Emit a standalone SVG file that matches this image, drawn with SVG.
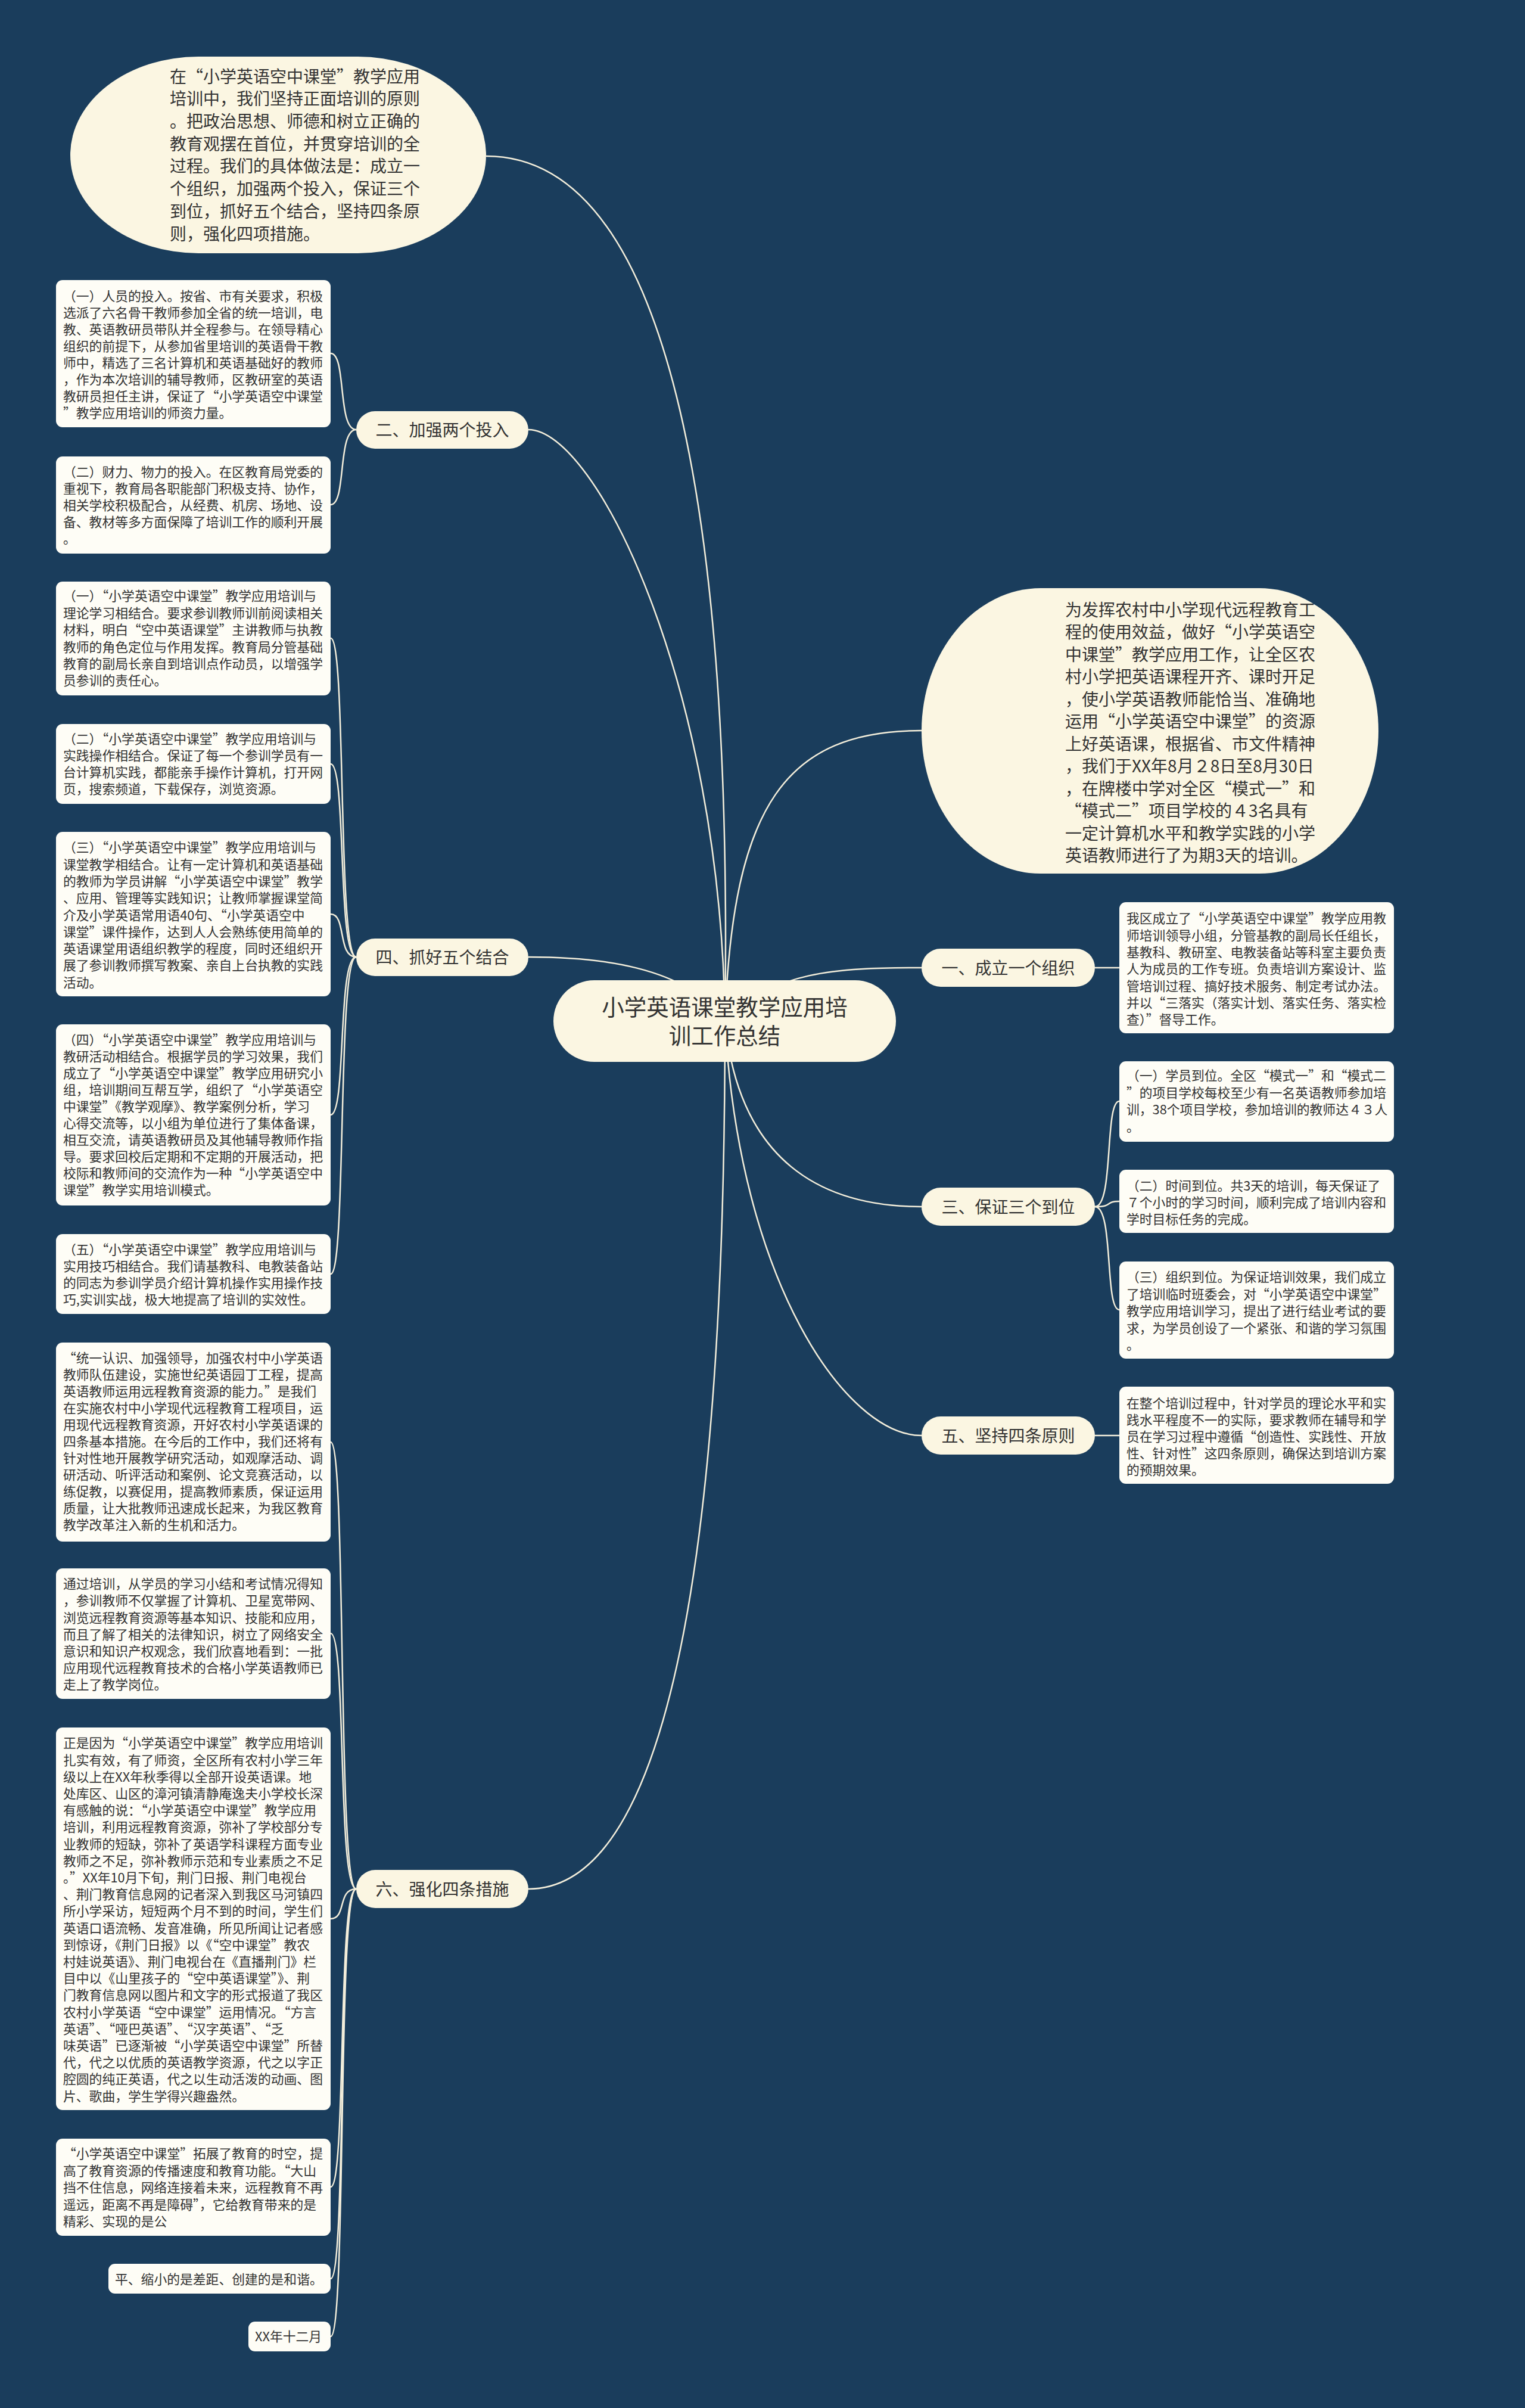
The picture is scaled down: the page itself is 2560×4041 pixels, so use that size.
<svg xmlns="http://www.w3.org/2000/svg" width="2560" height="4041" viewBox="0 0 2560 4041">
<style>
.pill{fill:#fbf6e2}
.box{fill:#fefdf6}
.t{font-family:"Noto Sans CJK SC","Noto Sans",sans-serif;fill:#333}
.s{font-size:21.8px}
.m{font-size:28px}
.lbl{font-size:28px;text-anchor:middle}
.ttl{font-size:37.5px;text-anchor:middle}
.edge{fill:none;stroke:#f3eedb;stroke-width:2.5}
</style>
<rect x="0" y="0" width="2560" height="4041" fill="#1a3d5c"/>
<g id="connectors">
<path class="edge" d="M1217,1713 C1230,850 1120,262 816,262"/>
<path class="edge" d="M1217,1713 C1210,1150 1000,721 887,721"/>
<path class="edge" d="M1217,1713 C1150,1620 1000,1606 887,1606"/>
<path class="edge" d="M1217,1713 C1217,2900 1050,3170 887,3170"/>
<path class="edge" d="M1217,1713 C1230,1350 1320,1226 1547,1226"/>
<path class="edge" d="M1217,1713 C1300,1630 1400,1624 1547,1624"/>
<path class="edge" d="M1217,1713 C1240,1950 1380,2025 1547,2025"/>
<path class="edge" d="M1217,1713 C1240,2150 1420,2409 1547,2409"/>
<path class="edge" d="M598,721 C566,721 582,593 555,593"/>
<path class="edge" d="M598,721 C566,721 582,847 555,847"/>
<path class="edge" d="M598,1606 C566,1606 582,1071 555,1071"/>
<path class="edge" d="M598,1606 C566,1606 582,1282 555,1282"/>
<path class="edge" d="M598,1606 C566,1606 582,1534 555,1534"/>
<path class="edge" d="M598,1606 C566,1606 582,1871 555,1871"/>
<path class="edge" d="M598,1606 C566,1606 582,2138 555,2138"/>
<path class="edge" d="M598,3170 C566,3170 582,2420 555,2420"/>
<path class="edge" d="M598,3170 C566,3170 582,2741 555,2741"/>
<path class="edge" d="M598,3170 C566,3170 582,3220 555,3220"/>
<path class="edge" d="M598,3170 C566,3170 582,3670 555,3670"/>
<path class="edge" d="M598,3170 C566,3170 582,3824 555,3824"/>
<path class="edge" d="M598,3170 C566,3170 582,3921 555,3921"/>
<path class="edge" d="M1838,1624 L1879,1624"/>
<path class="edge" d="M1838,2025 C1870,2025 1854,1848 1879,1848"/>
<path class="edge" d="M1838,2025 C1870,2025 1854,2016 1879,2016"/>
<path class="edge" d="M1838,2025 C1870,2025 1854,2198 1879,2198"/>
<path class="edge" d="M1838,2409 L1879,2409"/>
</g>

<g id="root">
<rect class="pill" x="929" y="1645" width="575" height="137" rx="68.5"/>
<text class="t ttl" x="1216.5" y="1704">小学英语课堂教学应用培</text>
<text class="t ttl" x="1216.5" y="1752">训工作总结</text>
</g>

<g id="intro-left">
<rect class="pill" x="118" y="95" width="698" height="330" rx="215" ry="165"/>
<text class="t m" x="285" y="138.6">
<tspan x="285" dy="0">在“小学英语空中课堂”教学应用</tspan>
<tspan x="285" dy="37.7">培训中，我们坚持正面培训的原则</tspan>
<tspan x="285" dy="37.7">。把政治思想、师德和树立正确的</tspan>
<tspan x="285" dy="37.7">教育观摆在首位，并贯穿培训的全</tspan>
<tspan x="285" dy="37.7">过程。我们的具体做法是：成立一</tspan>
<tspan x="285" dy="37.7">个组织，加强两个投入，保证三个</tspan>
<tspan x="285" dy="37.7">到位，抓好五个结合，坚持四条原</tspan>
<tspan x="285" dy="37.7">则，强化四项措施。</tspan>
</text>
</g>

<g id="intro-right">
<rect class="pill" x="1547" y="987" width="767" height="479" rx="200" ry="239.5"/>
<text class="t m" x="1788" y="1033.6">
<tspan x="1788" dy="0">为发挥农村中小学现代远程教育工</tspan>
<tspan x="1788" dy="37.5">程的使用效益，做好“小学英语空</tspan>
<tspan x="1788" dy="37.5">中课堂”教学应用工作，让全区农</tspan>
<tspan x="1788" dy="37.5">村小学把英语课程开齐、课时开足</tspan>
<tspan x="1788" dy="37.5">，使小学英语教师能恰当、准确地</tspan>
<tspan x="1788" dy="37.5">运用“小学英语空中课堂”的资源</tspan>
<tspan x="1788" dy="37.5">上好英语课，根据省、市文件精神</tspan>
<tspan x="1788" dy="37.5">，我们于XX年8月２8日至8月30日</tspan>
<tspan x="1788" dy="37.5">，在牌楼中学对全区“模式一”和</tspan>
<tspan x="1788" dy="37.5">“模式二”项目学校的４3名具有</tspan>
<tspan x="1788" dy="37.5">一定计算机水平和教学实践的小学</tspan>
<tspan x="1788" dy="37.5">英语教师进行了为期3天的培训。</tspan>
</text>
</g>

<g id="b1">
<rect class="pill" x="1547" y="1592" width="291" height="64" rx="32"/>
<text class="t lbl" x="1692.5" y="1634.6">一、成立一个组织</text>
</g>
<g id="b1-c1">
<rect class="box" x="1879" y="1514" width="461" height="220" rx="11"/>
<text class="t s" x="1891" y="1549.3">
<tspan x="1891" dy="0">我区成立了“小学英语空中课堂”教学应用教</tspan>
<tspan x="1891" dy="28.3">师培训领导小组，分管基教的副局长任组长，</tspan>
<tspan x="1891" dy="28.3">基教科、教研室、电教装备站等科室主要负责</tspan>
<tspan x="1891" dy="28.3">人为成员的工作专班。负责培训方案设计、监</tspan>
<tspan x="1891" dy="28.3">管培训过程、搞好技术服务、制定考试办法。</tspan>
<tspan x="1891" dy="28.3">并以“三落实（落实计划、落实任务、落实检</tspan>
<tspan x="1891" dy="28.3">查）”督导工作。</tspan>
</text>
</g>

<g id="b2">
<rect class="pill" x="598" y="690" width="289" height="63" rx="31.5"/>
<text class="t lbl" x="742.5" y="732.1">二、加强两个投入</text>
</g>
<g id="b2-c1">
<rect class="box" x="94" y="470" width="461" height="247" rx="11"/>
<text class="t s" x="106" y="505.3">
<tspan x="106" dy="0">（一）人员的投入。按省、市有关要求，积极</tspan>
<tspan x="106" dy="28">选派了六名骨干教师参加全省的统一培训，电</tspan>
<tspan x="106" dy="28">教、英语教研员带队并全程参与。在领导精心</tspan>
<tspan x="106" dy="28">组织的前提下，从参加省里培训的英语骨干教</tspan>
<tspan x="106" dy="28">师中，精选了三名计算机和英语基础好的教师</tspan>
<tspan x="106" dy="28">，作为本次培训的辅导教师，区教研室的英语</tspan>
<tspan x="106" dy="28">教研员担任主讲，保证了“小学英语空中课堂</tspan>
<tspan x="106" dy="28">”教学应用培训的师资力量。</tspan>
</text>
</g>
<g id="b2-c2">
<rect class="box" x="94" y="766" width="461" height="163" rx="11"/>
<text class="t s" x="106" y="800.3">
<tspan x="106" dy="0">（二）财力、物力的投入。在区教育局党委的</tspan>
<tspan x="106" dy="28">重视下，教育局各职能部门积极支持、协作，</tspan>
<tspan x="106" dy="28">相关学校积极配合，从经费、机房、场地、设</tspan>
<tspan x="106" dy="28">备、教材等多方面保障了培训工作的顺利开展</tspan>
<tspan x="106" dy="28">。</tspan>
</text>
</g>

<g id="b3">
<rect class="pill" x="1547" y="1993" width="291" height="64" rx="32"/>
<text class="t lbl" x="1692.5" y="2035.6">三、保证三个到位</text>
</g>
<g id="b3-c1">
<rect class="box" x="1879" y="1781" width="461" height="135" rx="11"/>
<text class="t s" x="1891" y="1813.3">
<tspan x="1891" dy="0">（一）学员到位。全区“模式一”和“模式二</tspan>
<tspan x="1891" dy="28.5">”的项目学校每校至少有一名英语教师参加培</tspan>
<tspan x="1891" dy="28.5">训，38个项目学校，参加培训的教师达４３人</tspan>
<tspan x="1891" dy="28.5">。</tspan>
</text>
</g>
<g id="b3-c2">
<rect class="box" x="1879" y="1963" width="461" height="106" rx="11"/>
<text class="t s" x="1891" y="1998.3">
<tspan x="1891" dy="0">（二）时间到位。共3天的培训，每天保证了</tspan>
<tspan x="1891" dy="28">７个小时的学习时间，顺利完成了培训内容和</tspan>
<tspan x="1891" dy="28">学时目标任务的完成。</tspan>
</text>
</g>
<g id="b3-c3">
<rect class="box" x="1879" y="2117" width="461" height="163" rx="11"/>
<text class="t s" x="1891" y="2151.3">
<tspan x="1891" dy="0">（三）组织到位。为保证培训效果，我们成立</tspan>
<tspan x="1891" dy="28.5">了培训临时班委会，对“小学英语空中课堂”</tspan>
<tspan x="1891" dy="28.5">教学应用培训学习，提出了进行结业考试的要</tspan>
<tspan x="1891" dy="28.5">求，为学员创设了一个紧张、和谐的学习氛围</tspan>
<tspan x="1891" dy="28.5">。</tspan>
</text>
</g>

<g id="b4">
<rect class="pill" x="598" y="1575" width="289" height="63" rx="31.5"/>
<text class="t lbl" x="742.5" y="1617.1">四、抓好五个结合</text>
</g>
<g id="b4-c1">
<rect class="box" x="94" y="976" width="461" height="191" rx="11"/>
<text class="t s" x="106" y="1008.3">
<tspan x="106" dy="0">（一）“小学英语空中课堂”教学应用培训与</tspan>
<tspan x="106" dy="28.4">理论学习相结合。要求参训教师训前阅读相关</tspan>
<tspan x="106" dy="28.4">材料，明白“空中英语课堂”主讲教师与执教</tspan>
<tspan x="106" dy="28.4">教师的角色定位与作用发挥。教育局分管基础</tspan>
<tspan x="106" dy="28.4">教育的副局长亲自到培训点作动员，以增强学</tspan>
<tspan x="106" dy="28.4">员参训的责任心。</tspan>
</text>
</g>
<g id="b4-c2">
<rect class="box" x="94" y="1215" width="461" height="134" rx="11"/>
<text class="t s" x="106" y="1248.3">
<tspan x="106" dy="0">（二）“小学英语空中课堂”教学应用培训与</tspan>
<tspan x="106" dy="28">实践操作相结合。保证了每一个参训学员有一</tspan>
<tspan x="106" dy="28">台计算机实践，都能亲手操作计算机，打开网</tspan>
<tspan x="106" dy="28">页，搜索频道，下载保存，浏览资源。</tspan>
</text>
</g>
<g id="b4-c3">
<rect class="box" x="94" y="1396" width="461" height="276" rx="11"/>
<text class="t s" x="106" y="1430.3">
<tspan x="106" dy="0">（三）“小学英语空中课堂”教学应用培训与</tspan>
<tspan x="106" dy="28.3">课堂教学相结合。让有一定计算机和英语基础</tspan>
<tspan x="106" dy="28.3">的教师为学员讲解“小学英语空中课堂”教学</tspan>
<tspan x="106" dy="28.3">、应用、管理等实践知识；让教师掌握课堂简</tspan>
<tspan x="106" dy="28.3">介及小学英语常用语40句、“小学英语空中</tspan>
<tspan x="106" dy="28.3">课堂”课件操作，达到人人会熟练使用简单的</tspan>
<tspan x="106" dy="28.3">英语课堂用语组织教学的程度，同时还组织开</tspan>
<tspan x="106" dy="28.3">展了参训教师撰写教案、亲自上台执教的实践</tspan>
<tspan x="106" dy="28.3">活动。</tspan>
</text>
</g>
<g id="b4-c4">
<rect class="box" x="94" y="1719" width="461" height="304" rx="11"/>
<text class="t s" x="106" y="1753.3">
<tspan x="106" dy="0">（四）“小学英语空中课堂”教学应用培训与</tspan>
<tspan x="106" dy="28">教研活动相结合。根据学员的学习效果，我们</tspan>
<tspan x="106" dy="28">成立了“小学英语空中课堂”教学应用研究小</tspan>
<tspan x="106" dy="28">组，培训期间互帮互学，组织了“小学英语空</tspan>
<tspan x="106" dy="28">中课堂”《教学观摩》、教学案例分析，学习</tspan>
<tspan x="106" dy="28">心得交流等，以小组为单位进行了集体备课，</tspan>
<tspan x="106" dy="28">相互交流，请英语教研员及其他辅导教师作指</tspan>
<tspan x="106" dy="28">导。要求回校后定期和不定期的开展活动，把</tspan>
<tspan x="106" dy="28">校际和教师间的交流作为一种“小学英语空中</tspan>
<tspan x="106" dy="28">课堂”教学实用培训模式。</tspan>
</text>
</g>
<g id="b4-c5">
<rect class="box" x="94" y="2071" width="461" height="134" rx="11"/>
<text class="t s" x="106" y="2105.3">
<tspan x="106" dy="0">（五）“小学英语空中课堂”教学应用培训与</tspan>
<tspan x="106" dy="28">实用技巧相结合。我们请基教科、电教装备站</tspan>
<tspan x="106" dy="28">的同志为参训学员介绍计算机操作实用操作技</tspan>
<tspan x="106" dy="28">巧,实训实战，极大地提高了培训的实效性。</tspan>
</text>
</g>

<g id="b5">
<rect class="pill" x="1547" y="2377" width="291" height="64" rx="32"/>
<text class="t lbl" x="1692.5" y="2419.6">五、坚持四条原则</text>
</g>
<g id="b5-c1">
<rect class="box" x="1879" y="2327" width="461" height="163" rx="11"/>
<text class="t s" x="1891" y="2363.3">
<tspan x="1891" dy="0">在整个培训过程中，针对学员的理论水平和实</tspan>
<tspan x="1891" dy="28">践水平程度不一的实际，要求教师在辅导和学</tspan>
<tspan x="1891" dy="28">员在学习过程中遵循“创造性、实践性、开放</tspan>
<tspan x="1891" dy="28">性、针对性”这四条原则，确保达到培训方案</tspan>
<tspan x="1891" dy="28">的预期效果。</tspan>
</text>
</g>

<g id="b6">
<rect class="pill" x="598" y="3138" width="289" height="64" rx="32"/>
<text class="t lbl" x="742.5" y="3180.6">六、强化四条措施</text>
</g>
<g id="b6-c1">
<rect class="box" x="94" y="2253" width="461" height="334" rx="11"/>
<text class="t s" x="106" y="2287.3">
<tspan x="106" dy="0">“统一认识、加强领导，加强农村中小学英语</tspan>
<tspan x="106" dy="28">教师队伍建设，实施世纪英语园丁工程，提高</tspan>
<tspan x="106" dy="28">英语教师运用远程教育资源的能力。”是我们</tspan>
<tspan x="106" dy="28">在实施农村中小学现代远程教育工程项目，运</tspan>
<tspan x="106" dy="28">用现代远程教育资源，开好农村小学英语课的</tspan>
<tspan x="106" dy="28">四条基本措施。在今后的工作中，我们还将有</tspan>
<tspan x="106" dy="28">针对性地开展教学研究活动，如观摩活动、调</tspan>
<tspan x="106" dy="28">研活动、听评活动和案例、论文竞赛活动，以</tspan>
<tspan x="106" dy="28">练促教，以赛促用，提高教师素质，保证运用</tspan>
<tspan x="106" dy="28">质量，让大批教师迅速成长起来，为我区教育</tspan>
<tspan x="106" dy="28">教学改革注入新的生机和活力。</tspan>
</text>
</g>
<g id="b6-c2">
<rect class="box" x="94" y="2632" width="461" height="219" rx="11"/>
<text class="t s" x="106" y="2666.3">
<tspan x="106" dy="0">通过培训，从学员的学习小结和考试情况得知</tspan>
<tspan x="106" dy="28.1">，参训教师不仅掌握了计算机、卫星宽带网、</tspan>
<tspan x="106" dy="28.1">浏览远程教育资源等基本知识、技能和应用，</tspan>
<tspan x="106" dy="28.1">而且了解了相关的法律知识，树立了网络安全</tspan>
<tspan x="106" dy="28.1">意识和知识产权观念，我们欣喜地看到：一批</tspan>
<tspan x="106" dy="28.1">应用现代远程教育技术的合格小学英语教师已</tspan>
<tspan x="106" dy="28.1">走上了教学岗位。</tspan>
</text>
</g>
<g id="b6-c3">
<rect class="box" x="94" y="2899" width="461" height="642" rx="11"/>
<text class="t s" x="106" y="2933.3">
<tspan x="106" dy="0">正是因为“小学英语空中课堂”教学应用培训</tspan>
<tspan x="106" dy="28.2">扎实有效，有了师资，全区所有农村小学三年</tspan>
<tspan x="106" dy="28.2">级以上在XX年秋季得以全部开设英语课。地</tspan>
<tspan x="106" dy="28.2">处库区、山区的漳河镇清静庵逸夫小学校长深</tspan>
<tspan x="106" dy="28.2">有感触的说：“小学英语空中课堂”教学应用</tspan>
<tspan x="106" dy="28.2">培训，利用远程教育资源，弥补了学校部分专</tspan>
<tspan x="106" dy="28.2">业教师的短缺，弥补了英语学科课程方面专业</tspan>
<tspan x="106" dy="28.2">教师之不足，弥补教师示范和专业素质之不足</tspan>
<tspan x="106" dy="28.2">。”XX年10月下旬，荆门日报、荆门电视台</tspan>
<tspan x="106" dy="28.2">、荆门教育信息网的记者深入到我区马河镇四</tspan>
<tspan x="106" dy="28.2">所小学采访，短短两个月不到的时间，学生们</tspan>
<tspan x="106" dy="28.2">英语口语流畅、发音准确，所见所闻让记者感</tspan>
<tspan x="106" dy="28.2">到惊讶，《荆门日报》以《“空中课堂”教农</tspan>
<tspan x="106" dy="28.2">村娃说英语》、荆门电视台在《直播荆门》栏</tspan>
<tspan x="106" dy="28.2">目中以《山里孩子的“空中英语课堂”》、荆</tspan>
<tspan x="106" dy="28.2">门教育信息网以图片和文字的形式报道了我区</tspan>
<tspan x="106" dy="28.2">农村小学英语“空中课堂”运用情况。“方言</tspan>
<tspan x="106" dy="28.2">英语”、“哑巴英语”、“汉字英语”、“乏</tspan>
<tspan x="106" dy="28.2">味英语”已逐渐被“小学英语空中课堂”所替</tspan>
<tspan x="106" dy="28.2">代，代之以优质的英语教学资源，代之以字正</tspan>
<tspan x="106" dy="28.2">腔圆的纯正英语，代之以生动活泼的动画、图</tspan>
<tspan x="106" dy="28.2">片、歌曲，学生学得兴趣盎然。</tspan>
</text>
</g>
<g id="b6-c4">
<rect class="box" x="94" y="3589" width="461" height="163" rx="11"/>
<text class="t s" x="106" y="3622.3">
<tspan x="106" dy="0">“小学英语空中课堂”拓展了教育的时空，提</tspan>
<tspan x="106" dy="28.5">高了教育资源的传播速度和教育功能。“大山</tspan>
<tspan x="106" dy="28.5">挡不住信息，网络连接着未来，远程教育不再</tspan>
<tspan x="106" dy="28.5">遥远，距离不再是障碍”，它给教育带来的是</tspan>
<tspan x="106" dy="28.5">精彩、实现的是公</tspan>
</text>
</g>
<g id="b6-c5">
<rect class="box" x="182" y="3799" width="373" height="50" rx="11"/>
<text class="t s" x="193" y="3833.3">平、缩小的是差距、创建的是和谐。</text>
</g>
<g id="b6-c6">
<rect class="box" x="417" y="3896" width="138" height="50" rx="11"/>
<text class="t s" x="428" y="3929.3">XX年十二月</text>
</g>
</svg>
